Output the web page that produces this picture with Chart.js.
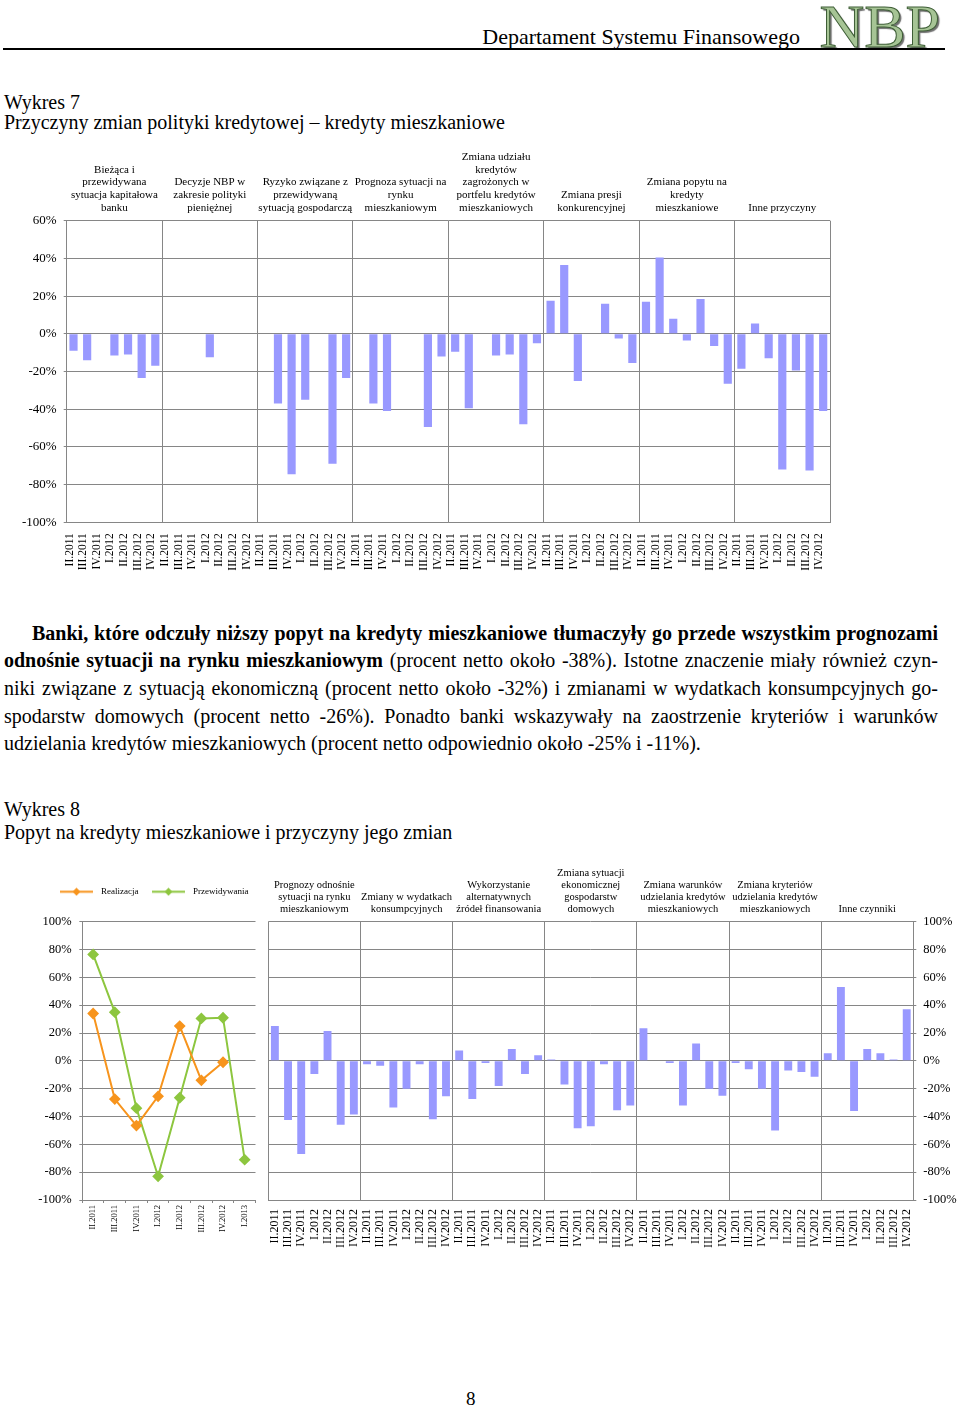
<!DOCTYPE html>
<html lang="pl">
<head>
<meta charset="utf-8">
<title>Wykres 7 i 8</title>
<script src="https://cdn.jsdelivr.net/npm/chart.js@4.4.1/dist/chart.umd.min.js"></script>
<style>
  body { margin: 0; background: #fff; }
  #page { position: relative; width: 960px; height: 1411px; overflow: hidden;
          font-family: 'Liberation Serif', 'Times New Roman', serif; color: #000; }
  .t { position: absolute; white-space: nowrap; line-height: 1; }
  .ln { position: absolute; font-size: 20px; line-height: 1; text-align: justify; text-align-last: justify; }
  canvas { position: absolute; }
  #nbp { right: 20px; top: -5px; font-size: 62px; color: #a6c495;
         -webkit-text-stroke: 1px #3e5e36; text-shadow: 2px 2px 1px #707070; }
  #rule { position: absolute; left: 3px; top: 48px; width: 942px; height: 2px; background: #000; }
</style>
</head>
<body>
<div id="page">
  <div class="t" style="right:160px; top:26px; font-size:22px;">Departament Systemu Finansowego</div>
  <div class="t" id="nbp">NBP</div>
  <div id="rule"></div>

  <div class="t" style="left:4px; top:91.5px; font-size:20px;">Wykres 7</div>
  <div class="t" style="left:4px; top:111.5px; font-size:20px;">Przyczyny zmian polityki kredytowej – kredyty mieszkaniowe</div>

  <canvas id="wykres7" width="960" height="440" style="left:0; top:145px;"></canvas>

  <div class="ln" style="left:32px; width:906px; top:622.5px;"><b>Banki, które odczuły niższy popyt na kredyty mieszkaniowe tłumaczyły go przede wszystkim prognozami</b></div>
  <div class="ln" style="left:4px; width:934px; top:650.2px;"><b>odnośnie sytuacji na rynku mieszkaniowym</b> (procent netto około -38%). Istotne znaczenie miały również czyn-</div>
  <div class="ln" style="left:4px; width:934px; top:678px;">niki związane z sytuacją ekonomiczną (procent netto około -32%) i zmianami w wydatkach konsumpcyjnych go-</div>
  <div class="ln" style="left:4px; width:934px; top:705.6px;">spodarstw domowych (procent netto -26%). Ponadto banki wskazywały na zaostrzenie kryteriów i warunków</div>
  <div class="ln last" style="left:4px; width:934px; top:733.3px; text-align:left; text-align-last:left;">udzielania kredytów mieszkaniowych (procent netto odpowiednio około -25% i -11%).</div>

  <div class="t" style="left:4px; top:799px; font-size:20px;">Wykres 8</div>
  <div class="t" style="left:4px; top:821.5px; font-size:20px;">Popyt na kredyty mieszkaniowe i przyczyny jego zmian</div>

  <canvas id="popyt" width="262" height="400" style="left:0; top:860px;"></canvas>
  <canvas id="wykres8" width="698" height="400" style="left:262px; top:860px;"></canvas>

  <div class="t" style="left:466px; top:1389px; font-size:19px;">8</div>
</div>

<script>
// quarters shown under each group of bars
const quarters = ['II.2011', 'III.2011', 'IV.2011', 'I.2012', 'II.2012', 'III.2012', 'IV.2012'];

// Wykres 7 - group titles
const groups7 = [
  ['Bieżąca i', 'przewidywana', 'sytuacja kapitałowa', 'banku'],
  ['Decyzje NBP w', 'zakresie polityki', 'pieniężnej'],
  ['Ryzyko związane z', 'przewidywaną', 'sytuacją gospodarczą'],
  ['Prognoza sytuacji na', 'rynku', 'mieszkaniowym'],
  ['Zmiana udziału', 'kredytów', 'zagrożonych w', 'portfelu kredytów', 'mieszkaniowych'],
  ['Zmiana presji', 'konkurencyjnej'],
  ['Zmiana popytu na', 'kredyty', 'mieszkaniowe'],
  ['Inne przyczyny']
];
// Wykres 7 - values (%), one array per group
const kapital    = [-9, -14, null, -11.5, -11, -23.5, -17];
const decyzjeNbp = [null, null, null, -12.5, null, null, null];
const ryzyko     = [null, -37, -74.5, -35, null, -69, -23.5];
const prognoza   = [null, -37, -41, null, null, -49.5, -12];
const zagrozone  = [-9.5, -39.5, null, -11.5, -11, -48, -5];
const presja     = [17.5, 36.5, -25, null, 16, -2.5, -15.5];
const popytZm    = [17, 40.5, 8, -3.5, 18.5, -6.5, -26.5];
const inne7      = [-18.5, 5.5, -13, -72, -19.5, -72.5, -41];
const yTicks7 = { min: -100, max: 60, step: 20 };

// Wykres 8 - line part
const lineLabels = ['II.2011', 'III.2011', 'IV.2011', 'I.2012', 'II.2012', 'III.2012', 'IV.2012', 'I.2013'];
const realizacja = [34, -27.5, -46.5, -25.5, 25, -14, -1, null];
const przewidywania = [76.5, 35, -34, -83, -26.5, 30.5, 31, -71];

// Wykres 8 - bar part
const groups8 = [
  ['Prognozy odnośnie', 'sytuacji na rynku', 'mieszkaniowym'],
  ['Zmiany w wydatkach', 'konsumpcyjnych'],
  ['Wykorzystanie', 'alternatywnych', 'źródeł finansowania'],
  ['Zmiana sytuacji', 'ekonomicznej', 'gospodarstw', 'domowych'],
  ['Zmiana warunków', 'udzielania kredytów', 'mieszkaniowych'],
  ['Zmiana kryteriów', 'udzielania kredytów', 'mieszkaniowych'],
  ['Inne czynniki']
];
const prognozy   = [25, -42.5, -67, -9.5, 21.5, -46, -38.5];
const wydatki    = [-2.5, -3.5, -33.5, -20, -2.5, -42, -25.5];
const alternat   = [7.5, -27.5, -1.5, -18, 8.5, -9.5, 4];
const sytuacja   = [1, -17, -48.5, -47, -2.5, -35.5, -32];
const warunki    = [23.5, null, -1.5, -32, 12.5, -20, -25];
const kryteria   = [-1.5, -6, -20, -50, -7, -8, -11.5];
const inne8      = [5.5, 53, -36, 8.5, 5.5, 1, 37];
const yTicks8 = { min: -100, max: 100, step: 20 };

// paragraph lines: justify if they fit, squeeze slightly if not
document.querySelectorAll('.ln').forEach((el) => {
  const target = parseFloat(el.style.width);
  el.style.whiteSpace = 'nowrap';
  el.style.width = 'auto';
  const natural = el.getBoundingClientRect().width;
  if (natural > target) {
    el.style.width = natural + 'px';
    el.style.textAlignLast = 'left';
    el.style.transformOrigin = '0 0';
    el.style.transform = 'scaleX(' + (target / natural) + ')';
  } else {
    el.style.width = target + 'px';
    el.style.whiteSpace = 'normal';
  }
});

Chart.defaults.font.family = "'Liberation Serif', 'Times New Roman', serif";
Chart.defaults.color = '#000';
Chart.defaults.animation = false;

const GRID = '#868686';
const BAR = '#9999ff';
const ORANGE = '#f7941d';
const GREEN = '#8dc63f';

const fixSize = (prop, v) => (scale) => { scale[prop] = v; };
const pct = (v) => v + '%';
// vertical line only between groups of 7 quarters (and at the right edge)
const groupLine = (ctx) => (ctx.index === undefined || ctx.index % 7 === 0) ? GRID : 'rgba(0,0,0,0)';

function barChart(canvas, groups, series, yt, opts) {
  const labels = groups.flatMap(() => quarters);
  const values = [].concat(...series);
  return new Chart(canvas, {
    type: 'bar',
    data: {
      labels: labels,
      datasets: [{ data: values, backgroundColor: BAR, barPercentage: 0.6, categoryPercentage: 1 }]
    },
    options: {
      responsive: false,
      layout: { padding: opts.padding },
      plugins: { legend: { display: false }, tooltip: { enabled: false } },
      scales: {
        x: {
          offset: true,
          grid: { offset: true, color: groupLine, drawTicks: false },
          border: { color: GRID },
          ticks: { autoSkip: false, minRotation: 90, maxRotation: 90, padding: opts.xPad,
                   labelOffset: opts.labelOffset, font: { size: opts.xFont } },
          afterFit: fixSize('height', opts.bottomH)
        },
        top: {
          type: 'category', position: 'top', labels: groups, offset: true,
          grid: { display: false, drawTicks: false },
          border: { display: false },
          ticks: { autoSkip: false, minRotation: 0, maxRotation: 0, padding: 6.3,
                   font: { size: opts.headFont, lineHeight: opts.headLH } },
          afterFit: fixSize('height', opts.topH)
        },
        y: {
          position: opts.yPos, min: yt.min, max: yt.max,
          ticks: { stepSize: yt.step, padding: 7, callback: pct, font: { size: opts.yFont } },
          grid: { color: GRID, tickLength: 3 },
          border: { color: GRID },
          afterFit: fixSize('width', opts.yW)
        }
      }
    }
  });
}

barChart(document.getElementById('wykres7'), groups7,
  [kapital, decyzjeNbp, ryzyko, prognoza, zagrozone, presja, popytZm, inne7], yTicks7,
  { padding: { left: 0, right: 130, top: 0, bottom: 0 }, xPad: 11, labelOffset: -4, xFont: 11.5,
    bottomH: 62.7, headFont: 11, headLH: 1.16, topH: 75.7, yPos: 'left', yFont: 13, yW: 66.7 });

barChart(document.getElementById('wykres8'), groups8,
  [prognozy, wydatki, alternat, sytuacja, warunki, kryteria, inne8], yTicks8,
  { padding: { left: 6.3, right: 0, top: 0, bottom: 0 }, xPad: 9, labelOffset: 0, xFont: 12,
    bottomH: 60, headFont: 10.5, headLH: 1.16, topH: 61.7, yPos: 'right', yFont: 12.5, yW: 46.7 });

// legend marker: short line with a diamond
function legendIcon(color) {
  const c = document.createElement('canvas');
  c.width = 33; c.height = 9;
  const g = c.getContext('2d');
  g.strokeStyle = color; g.lineWidth = 2;
  g.beginPath(); g.moveTo(0, 4.5); g.lineTo(33, 4.5); g.stroke();
  g.fillStyle = color;
  g.beginPath(); g.moveTo(16.5, 0.5); g.lineTo(20.5, 4.5); g.lineTo(16.5, 8.5); g.lineTo(12.5, 4.5);
  g.closePath(); g.fill();
  return c;
}
const icons = [legendIcon(ORANGE), legendIcon(GREEN)];

// legend sits left of the plot and a bit higher than Chart.js would put it
const legendPlace = {
  id: 'legendPlace',
  beforeInit(chart) {
    const fit = chart.legend.fit;
    chart.legend.fit = function () { fit.call(this); this.height += 15.5; };
  },
  afterLayout(chart) {
    chart.legend.left = 46.5;
  }
};

new Chart(document.getElementById('popyt'), {
  type: 'line',
  data: {
    labels: lineLabels,
    datasets: [
      { label: 'Realizacja', data: realizacja, borderColor: ORANGE, backgroundColor: ORANGE,
        borderWidth: 2, pointStyle: 'rectRot', pointRadius: 4.5, tension: 0 },
      { label: 'Przewidywania', data: przewidywania, borderColor: GREEN, backgroundColor: GREEN,
        borderWidth: 2, pointStyle: 'rectRot', pointRadius: 4.5, tension: 0 }
    ]
  },
  options: {
    responsive: false,
    layout: { padding: { left: 0, right: 2.7, top: 17.2, bottom: 0 } },
    plugins: {
      tooltip: { enabled: false },
      legend: {
        position: 'top', align: 'start',
        labels: {
          usePointStyle: true, pointStyleWidth: 40, padding: 10, font: { size: 9 },
          generateLabels(chart) {
            const items = Chart.defaults.plugins.legend.labels.generateLabels(chart);
            items.forEach((it, i) => { it.pointStyle = icons[i]; });
            return items;
          }
        }
      }
    },
    scales: {
      x: {
        offset: true,
        grid: { offset: true, drawOnChartArea: false, color: GRID, tickLength: 3 },
        border: { color: GRID },
        ticks: { autoSkip: false, minRotation: 90, maxRotation: 90, padding: 2, font: { size: 8.5 } },
        afterFit: fixSize('height', 60)
      },
      y: {
        min: yTicks8.min, max: yTicks8.max,
        ticks: { stepSize: yTicks8.step, padding: 7.6, callback: pct, font: { size: 12.5 } },
        grid: { color: GRID, tickLength: 3 },
        border: { color: GRID },
        afterFit: fixSize('width', 82.3)
      }
    }
  },
  plugins: [legendPlace]
});
</script>
</body>
</html>
